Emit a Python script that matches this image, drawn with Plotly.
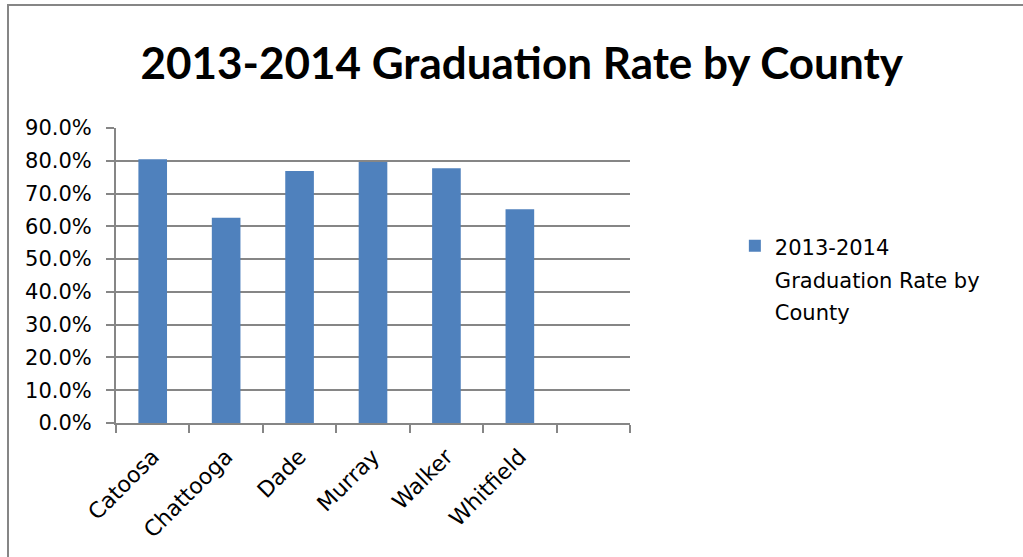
import plotly.graph_objects as go

counties = ["Catoosa", "Chattooga", "Dade", "Murray", "Walker", "Whitfield", " "]
rates = [0.805, 0.626, 0.769, 0.796, 0.777, 0.652, None]
series_lines = ["2013-2014", "Graduation Rate by", "County"]
title_text = "2013-2014 Graduation Rate by County"

bar_color = "#4F81BD"
axis_gray = "#868686"
label_font = "DejaVu Sans, Verdana, sans-serif"

series_name = "<br>".join(series_lines)
legend_label = "<br>".join('<span style="font-size:21px">' + s + "</span>" for s in series_lines)

fig = go.Figure()
fig.add_trace(go.Bar(
    x=counties, y=rates, name=series_name,
    marker=dict(color=bar_color, line=dict(width=0)),
    showlegend=False,
))
# legend entry (square swatch like the original)
fig.add_trace(go.Scatter(
    x=[None], y=[None], mode="markers", name=legend_label,
    marker=dict(symbol="square", size=12, color=bar_color),
    showlegend=True, hoverinfo="skip",
))

fig.update_layout(
    width=1023, height=557,
    paper_bgcolor="white", plot_bgcolor="white",
    margin=dict(l=116, r=393, t=128, b=134),
    font=dict(family=label_font, color="black", size=21),
    title=dict(text="<b>" + title_text + "</b>", x=0.51, xanchor="center",
               y=1 - 64 / 557, yanchor="middle",
               font=dict(size=44, family="Lato, Open Sans, sans-serif", color="black")),
    bargap=0.61,
    showlegend=True,
    legend=dict(x=1.204, y=0.678, xanchor="left", yanchor="top",
                font=dict(size=25, family=label_font), valign="top",
                bgcolor="rgba(0,0,0,0)"),
    xaxis=dict(showline=True, linecolor=axis_gray, linewidth=2,
               ticks="outside", ticklen=8, tickcolor=axis_gray, tickwidth=2,
               tickson="boundaries", tickangle=-45, showgrid=False,
               ticklabelstandoff=10,
               tickfont=dict(size=22, family=label_font)),
    yaxis=dict(range=[0, 0.9], dtick=0.1, tickformat=".1%",
               showline=True, linecolor=axis_gray, linewidth=2,
               ticks="outside", ticklen=8, tickcolor=axis_gray, tickwidth=2,
               showgrid=True, gridcolor=axis_gray, gridwidth=1.5,
               zeroline=False, ticklabelstandoff=10,
               tickfont=dict(size=21, family=label_font)),
    shapes=[dict(type="rect", xref="paper", yref="paper",
                 x0=-108 / 514, x1=3, y0=-0.8, y1=1 + 123 / 295,
                 line=dict(color=axis_gray, width=2), fillcolor="rgba(0,0,0,0)",
                 layer="below")],
)

fig.write_html("out.html")
